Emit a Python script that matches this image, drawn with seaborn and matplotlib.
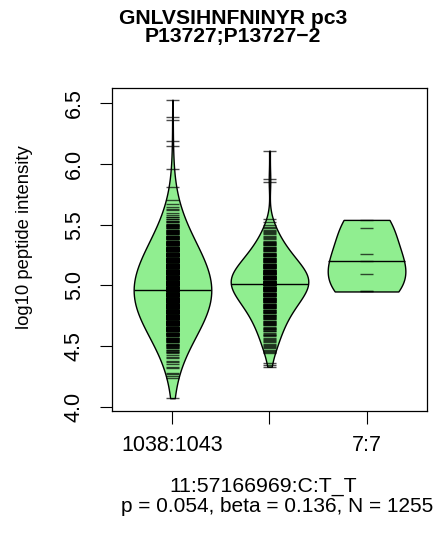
import numpy as np
import pandas as pd
import matplotlib
matplotlib.use("Agg")
import matplotlib.pyplot as plt
import seaborn as sns

# ---------------- data ----------------
groups = ["1038:1043", "group2", "7:7"]
tick_labels = ["1038:1043", "", "7:7"]

g1_values = [4.07, 4.24, 4.25, 4.27, 4.28, 4.32, 4.33, 4.35, 4.37, 4.38,
             4.40, 4.41, 4.43, 4.44, 4.45, 4.46, 4.47, 4.48, 4.49,
             4.50, 4.51, 4.52, 4.53, 4.54, 4.55, 4.56, 4.57, 4.58, 4.59,
             4.60, 4.61, 4.62, 4.63, 4.64, 4.65, 4.66, 4.67, 4.68, 4.69,
             4.70, 4.71, 4.72, 4.73, 4.74, 4.75, 4.76, 4.77, 4.78, 4.79,
             4.80, 4.81, 4.82, 4.83, 4.84, 4.85, 4.86, 4.87, 4.88, 4.89,
             4.90, 4.91, 4.92, 4.93, 4.94, 4.95, 4.96, 4.97, 4.98, 4.99,
             5.00, 5.01, 5.02, 5.03, 5.04, 5.05, 5.06, 5.07, 5.08, 5.09,
             5.10, 5.11, 5.12, 5.13, 5.14, 5.15, 5.16, 5.17, 5.18, 5.19,
             5.20, 5.21, 5.22, 5.23, 5.24, 5.25, 5.26, 5.27, 5.28, 5.29,
             5.30, 5.31, 5.32, 5.33, 5.34, 5.35, 5.36, 5.37, 5.38, 5.39,
             5.40, 5.41, 5.42, 5.43, 5.44, 5.45, 5.46, 5.47, 5.48,
             5.49, 5.50, 5.51, 5.52, 5.53, 5.55, 5.56, 5.58, 5.60, 5.62,
             5.63, 5.65, 5.67, 5.70, 5.81, 5.96, 6.15, 6.19, 6.36, 6.39, 6.53]
g1_counts = [1, 1, 1, 1, 1, 1, 1, 1, 1, 1,
             1, 1, 1, 1, 2, 1, 2, 2, 2,
             2, 3, 2, 3, 3, 3, 3, 4, 3, 4,
             5, 5, 6, 6, 6, 6, 7, 7, 7, 8,
             9, 9, 10, 10, 10, 11, 11, 11, 12, 12,
             12, 12, 12, 13, 13, 13, 13, 13, 14, 14,
             12, 12, 12, 12, 12, 12, 12, 12, 12, 12,
             12, 12, 12, 12, 12, 11, 11, 11, 11, 11,
             11, 11, 10, 10, 10, 10, 9, 9, 9, 9,
             9, 8, 8, 8, 8, 7, 7, 7, 7, 6,
             6, 6, 6, 5, 5, 5, 5, 4, 4, 4,
             4, 4, 3, 3, 3, 3, 3, 3, 2,
             3, 3, 2, 2, 2, 2, 2, 1, 1, 1,
             1, 1, 1, 1, 1, 1, 1, 1, 1, 1, 1]

g2_values = [4.33, 4.34, 4.36, 4.44,
             4.45, 4.46, 4.47, 4.48, 4.49, 4.50, 4.51, 4.52, 4.53, 4.54,
             4.55, 4.56, 4.57, 4.58, 4.59, 4.60, 4.61, 4.62, 4.63, 4.64,
             4.65, 4.66, 4.67, 4.68, 4.69, 4.70, 4.71, 4.72, 4.73, 4.74,
             4.75, 4.76, 4.77, 4.78, 4.79, 4.80, 4.81, 4.82, 4.83, 4.84,
             4.85, 4.86, 4.87, 4.88, 4.89, 4.90, 4.91, 4.92, 4.93, 4.94,
             4.95, 4.96, 4.97, 4.98, 4.99, 5.00, 5.01, 5.02, 5.03, 5.04,
             5.05, 5.06, 5.07, 5.08, 5.09, 5.10, 5.11, 5.12, 5.13, 5.14,
             5.15, 5.16, 5.17, 5.18, 5.19, 5.20, 5.21, 5.22, 5.23, 5.24,
             5.25, 5.26, 5.27, 5.28, 5.29, 5.30, 5.31, 5.32, 5.33, 5.34,
             5.35, 5.36, 5.37, 5.38, 5.39, 5.40, 5.41, 5.42, 5.43, 5.44,
             5.45, 5.46, 5.47, 5.48,
             5.50, 5.52, 5.55, 5.85, 5.88, 6.11]
g2_counts = [1, 1, 1, 1,
             1, 1, 1, 1, 1, 1, 1, 1, 1, 1,
             1, 1, 1, 1, 2, 1, 1, 2, 1, 2,
             2, 1, 2, 2, 2, 2, 2, 2, 2, 2,
             2, 3, 2, 3, 2, 3, 3, 3, 3, 3,
             3, 4, 3, 4, 4, 4, 4, 4, 4, 4,
             4, 4, 5, 5, 5, 5, 5, 5, 5, 5,
             5, 5, 5, 5, 5, 5, 4, 4, 4, 4,
             4, 4, 4, 4, 3, 3, 3, 3, 3, 3,
             3, 3, 2, 2, 2, 2, 2, 2, 2, 2,
             2, 2, 1, 1, 1, 1, 1, 1, 1, 1,
             1, 1, 1, 1,
             1, 1, 1, 1, 1, 1]

g3_values = [4.95, 5.09, 5.20, 5.26, 5.47, 5.54]
g3_counts = [2, 1, 1, 1, 1, 1]

title_text = "GNLVSIHNFNINYR pc3\nP13727;P13727\u22122"
xlabel_lines = ["11:57166969:C:T_T", "p = 0.054, beta = 0.136, N = 1255"]
ylabel = "log10 peptide intensity"
yticks = [4.0, 4.5, 5.0, 5.5, 6.0, 6.5]

# ---------------- build table ----------------
frames = []
for name, vals, cnts in zip(groups, [g1_values, g2_values, g3_values],
                            [g1_counts, g2_counts, g3_counts]):
    frames.append(pd.DataFrame({"group": name,
                                "value": np.repeat(vals, cnts)}))
df = pd.concat(frames, ignore_index=True)

# ---------------- style ----------------
sns.set_style("ticks")
plt.rcParams["font.family"] = ["Liberation Sans", "DejaVu Sans"]
plt.rcParams["text.color"] = "black"
plt.rcParams["axes.labelcolor"] = "black"
plt.rcParams["xtick.color"] = "black"
plt.rcParams["ytick.color"] = "black"

W, H = 435, 543
fig = plt.figure(figsize=(W / 100, H / 100), dpi=100)
ax = fig.add_axes([112.3 / W, 1 - 410.7 / H, 314.4 / W, 322.4 / H])

bean_color = "#90EE90"
bw_factors = [1.0, 0.35, 0.72]
for name, bw in zip(groups, bw_factors):
    sub = df[df["group"] == name]
    sns.violinplot(data=sub, x="group", y="value", order=groups, ax=ax,
                   color=bean_color, saturation=1, linecolor="black",
                   linewidth=1.0, inner=None, cut=0, density_norm="width",
                   width=0.8, bw_method=bw)

# bean lines and average lines
for i, name in enumerate(groups):
    vals = df.loc[df["group"] == name, "value"].to_numpy()
    ax.hlines(vals, i - 0.067, i + 0.067, color="black", alpha=0.7,
              linewidth=1.0, zorder=3)
    ax.hlines(np.median(vals), i - 0.4, i + 0.4, color="black",
              linewidth=1.0, zorder=4)

ax.set_xlim(-0.62, 2.62)
ax.set_ylim(3.967, 6.625)
ax.set_yticks(yticks)
ax.set_yticklabels([f"{t:.1f}" for t in yticks])
ax.set_xticks(range(len(groups)))
ax.set_xticklabels(tick_labels)
ax.set_xlabel("")
ax.set_ylabel("")

for sp in ax.spines.values():
    sp.set_visible(True)
    sp.set_color("black")
    sp.set_linewidth(0.9)

ax.tick_params(axis="both", direction="out", length=9, width=0.8,
               color="black", labelsize=15.5, labelcolor="black")
ax.tick_params(axis="x", pad=8.6)
ax.tick_params(axis="y", pad=10.7)
for lab in ax.get_yticklabels():
    lab.set_rotation(90)
    lab.set_va("center")
    lab.set_ha("right")

def ftext(x, y, s, **kw):
    fig.text(x / W, 1 - y / H, s, ha="center", va="center", color="black", **kw)

ftext(233.3, 27.5, title_text, fontsize=15.2, fontweight="bold",
      linespacing=0.98, multialignment="center")
ftext(262.7, 486, xlabel_lines[0], fontsize=15.3)
ftext(277, 506, xlabel_lines[1], fontsize=15)
ftext(25, 237, ylabel, fontsize=13.3, rotation=90)

fig.savefig("out.png", dpi=100)
